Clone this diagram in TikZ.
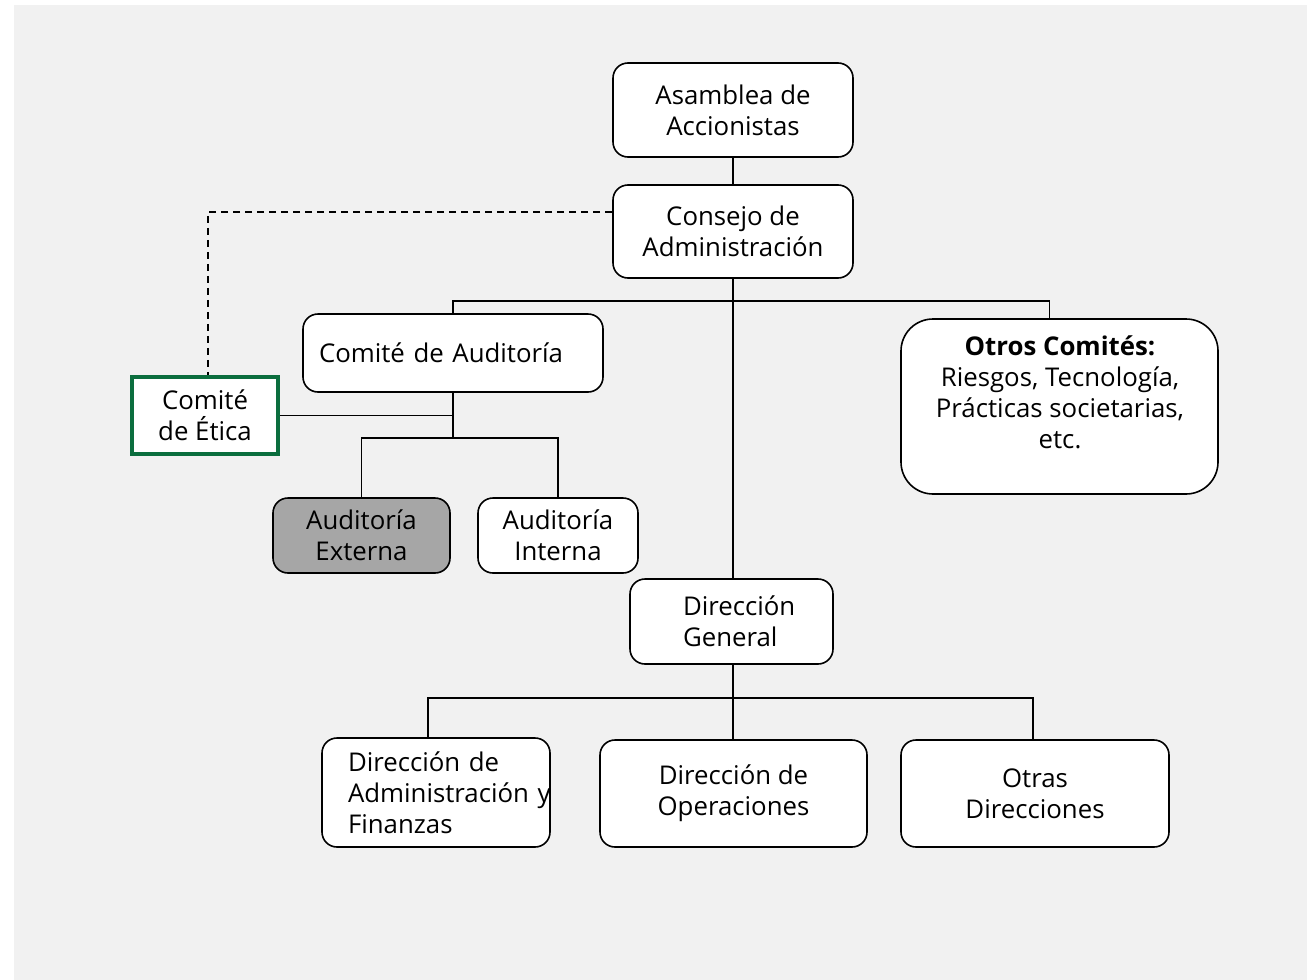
\documentclass[tikz,border=0pt]{standalone}
\usepackage{fontspec}
\setmainfont{Open Sans}
\definecolor{bggray}{HTML}{F1F1F1}
\definecolor{extgray}{HTML}{A6A6A6}
\definecolor{eticagreen}{HTML}{0B6E3E}

\begin{document}
\begin{tikzpicture}[x=1pt, y=-1pt,
		box/.style={draw, fill=white, line width=1.6pt, rounded corners=15pt, align=center, inner sep=0pt},
		link/.style={line width=1.6pt}]
		\fontsize{25.8}{31}\selectfont
		\fill[white] (0, 0) rectangle (1307, 980);
		\fill[bggray] (14, 5) rectangle (1307, 980);
		\useasboundingbox (0, 0) rectangle (1307, 980);

		\node[box, minimum width=240, minimum height=94] (asamblea) at (733, 110) {Asamblea de\\Accionistas};
		\node[box, minimum width=240, minimum height=93] (consejo) at (733, 231.5) {Consejo de\\Administración};
		\node[box, minimum width=300, minimum height=78, text width=268, align=left] (auditoria) at (453, 353) {Comité de Auditoría};
		\node[box, minimum width=317, minimum height=175, rounded corners=32pt] (otros) at (1059.5, 406.5) {};
		\node[align=center, inner sep=0pt] (otrostxt) at (1060, 392) {\textbf{Otros Comités:}\\Riesgos, Tecnología,\\Prácticas societarias,\\etc.};
		\node[draw=eticagreen, fill=white, line width=4pt, minimum width=146, minimum height=77, align=center, inner sep=0pt] (etica) at (205, 415.5) {Comité\\de Ética};
		\node[box, fill=extgray, minimum width=177, minimum height=75] (externa) at (361.5, 535.5) {Auditoría\\Externa};
		\node[box, minimum width=160, minimum height=75] (interna) at (558, 535.5) {Auditoría\\Interna};
		\node[box, minimum width=203, minimum height=85, text width=97, align=left] (general) at (731.5, 621.5) {Dirección\\General};
		\node[box, minimum width=228, minimum height=109, text width=176, align=left] (admin) at (436, 792.5) {Dirección de\\Administración~y\\Finanzas};
		\node[box, minimum width=267, minimum height=107] (operaciones) at (733.5, 793.5) {Dirección de\\Operaciones};
		\node[box, minimum width=268, minimum height=107] (otras) at (1035, 793.5) {Otras\\Direcciones};

		\coordinate (dk) at (208, 212);
		\coordinate (b3) at (733, 698);

		\draw[link] (asamblea.south) -- (consejo.north);
		\draw[link, dash pattern=on 7pt off 5pt] (consejo.west |- dk) -- (dk) -- (etica.north -| dk);
		\draw[link] (consejo.south) -- (consejo.south |- general.north);
		\draw[link] (auditoria.north) -- ++(0, -12) -| ([xshift=-10pt]otros.north);
		\draw[link] (etica.east) -- (etica.east -| auditoria.south);
		\draw[link] (auditoria.south) -- ++(0, 45) coordinate (b2);
		\draw[link] (externa.north) |- (b2) -| (interna.north);
		\draw[link] (b3 |- general.south) -- (b3 |- operaciones.north);
		\draw[link] ([xshift=-8pt]admin.north) |- (b3) -| ([xshift=-2pt]otras.north);
	\end{tikzpicture}
\end{document}
